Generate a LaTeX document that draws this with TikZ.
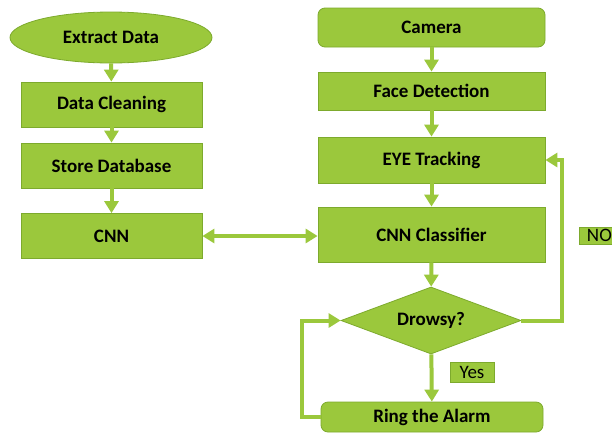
\documentclass[tikz,border=0pt]{standalone}
\usepackage{fontspec}
\setmainfont{Carlito}
\usetikzlibrary{arrows.meta,shapes.geometric}
\definecolor{leaf}{RGB}{155,200,60}
\definecolor{leafedge}{RGB}{125,170,45}
\tikzset{
  base/.style={fill=leaf, draw=leafedge, line width=0.8pt, font=\fontsize{19}{22}\selectfont\bfseries, text=black},
  box/.style={base, rectangle, minimum width=181pt, minimum height=45pt, inner sep=0pt},
  rbox/.style={base, rectangle, rounded corners=7pt, inner sep=0pt},
  oval/.style={base, ellipse, minimum width=202pt, minimum height=51pt, inner sep=0pt},
  decision/.style={base, diamond, minimum width=180pt, minimum height=67pt, inner sep=0pt, aspect=2.7},
  tag/.style={fill=leaf, draw=leafedge, line width=0.8pt, font=\fontsize{19}{22}\selectfont, text=black, inner sep=0pt},
  flow/.style={draw=leaf, line width=4pt, -{Triangle[width=14pt,length=12pt]}},
  both/.style={draw=leaf, line width=4pt, {Triangle[width=14pt,length=12pt]}-{Triangle[width=14pt,length=12pt]}}
}
\begin{document}
\begin{tikzpicture}[x=1pt,y=-1pt]
  \useasboundingbox[fill=white] (0,0) rectangle (612,432);

  % training branch
  \node[oval] (extract) at (111,37.5) {Extract Data};
  \node[box] (clean) at (111.5,104.5) {Data Cleaning};
  \node[box] (store) at (111.5,165.5) {Store Database};
  \node[box] (cnn) at (111.5,236) {CNN};

  % detection branch
  \node[rbox, minimum width=227pt, minimum height=39pt] (camera) at (431.5,27.5) {Camera};
  \node[box, minimum width=227pt, minimum height=38pt] (face) at (431.5,91) {Face Detection};
  \node[box, minimum width=227pt, minimum height=46pt] (eye) at (431.5,160) {EYE Tracking};
  \node[box, minimum width=227pt, minimum height=55pt] (classifier) at (431.5,234.5) {CNN Classifier};
  \node[decision, minimum width=180pt, minimum height=67pt] (drowsy) at (431,320.5) {Drowsy?};
  \node[rbox, minimum width=222pt, minimum height=30pt] (alarm) at (432,417) {Ring the Alarm};

  % branch labels
  \node[tag, minimum width=44pt, minimum height=20pt] (yes) at (472,372) {Yes};
  \node[tag, minimum width=40pt, minimum height=17pt, anchor=west] (no) at (579,235.5) {NO};

  \coordinate (noturn) at (562,320.5);
  \coordinate (noup) at (562,160);
  \coordinate (loopdown) at (302,417);
  \coordinate (loopup) at (302,320.5);

  % connectors
  \draw[flow] (extract) -- (clean);
  \draw[flow] (clean) -- (store);
  \draw[flow] (store) -- (cnn);
  \draw[flow] (camera) -- (face);
  \draw[flow] (face) -- (eye);
  \draw[flow] (eye) -- (classifier);
  \draw[flow] (classifier) -- (drowsy);
  \draw[flow] (drowsy) -- (alarm);
  \draw[both] (cnn.east) -- (cnn.east -| classifier.west);
  \draw[flow] (drowsy.east) -- (noturn) -- (noup) -- (eye.east);
  \draw[flow] (alarm.west) -- (loopdown) -- (loopup) -- (drowsy.west);
\end{tikzpicture}
\end{document}
